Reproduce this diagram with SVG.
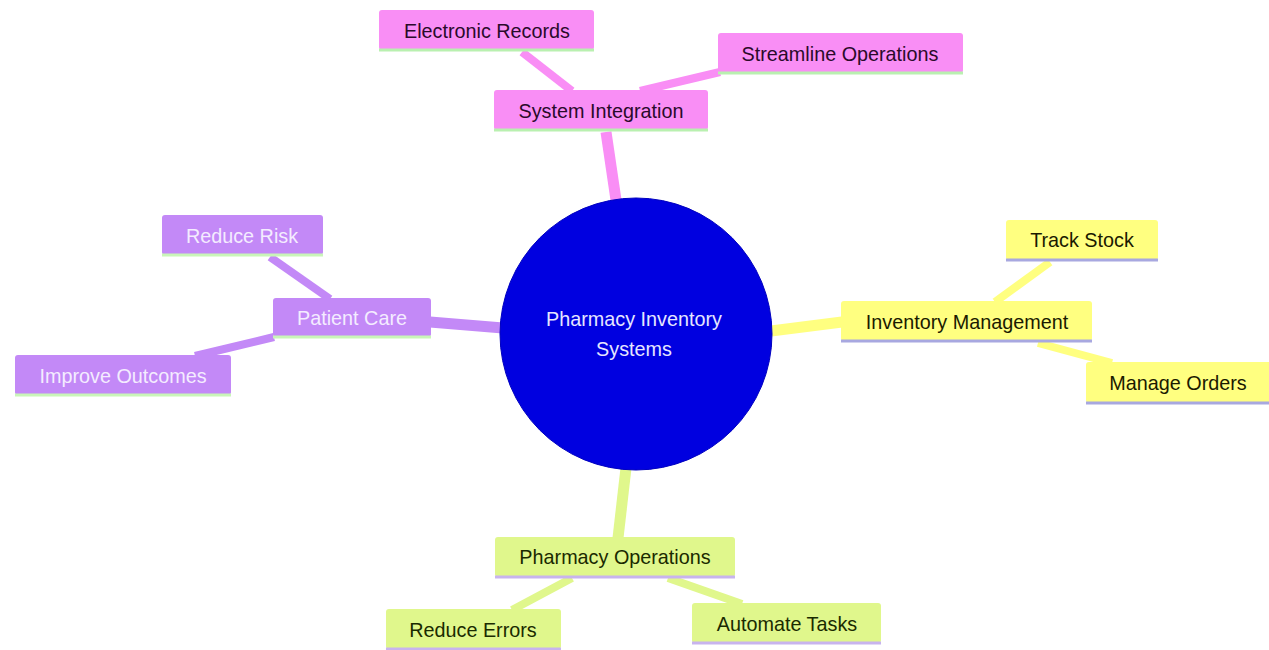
<svg xmlns="http://www.w3.org/2000/svg" width="1269" height="650" viewBox="0 0 1269 650">
<style>
text{font-family:"Liberation Sans",Arial,sans-serif;font-size:19.8px;text-anchor:middle;dominant-baseline:central}
.e{fill:none;stroke-linecap:butt}
.e1{stroke-width:11}
.e2{stroke-width:8}
.pk{fill:#f98ef5;stroke:#f98ef5}
.pu{fill:#c389f7;stroke:#c389f7}
.ye{fill:#ffff80;stroke:#ffff80}
.gr{fill:#e0f78c;stroke:#e0f78c}
.box{stroke:none}
.lpk{stroke:#b9f0b0;stroke-width:3}
.lpu{stroke:#c9f5b8;stroke-width:3}
.lye{stroke:#a8a8e0;stroke-width:3}
.lgr{stroke:#c8b4ee;stroke-width:3}
.tpk{fill:#2a0a2a}
.tpu{fill:#f4ecff}
.tye{fill:#1a1a00}
.tgr{fill:#1a2a00}
</style>
<rect width="1269" height="650" fill="#ffffff"/>
<g id="connectors">
<line class="e e1 pk" x1="616" y1="200" x2="606" y2="132"/>
<line class="e e2 pk" x1="572" y1="91" x2="522" y2="52"/>
<line class="e e2 pk" x1="640" y1="91" x2="720" y2="72"/>
<line class="e e1 pu" x1="430" y1="322" x2="503" y2="328"/>
<line class="e e2 pu" x1="330" y1="299" x2="270" y2="257"/>
<line class="e e2 pu" x1="274" y1="337" x2="195" y2="356"/>
<line class="e e1 ye" x1="771" y1="331" x2="842" y2="322"/>
<line class="e e2 ye" x1="995" y1="302" x2="1050" y2="262"/>
<line class="e e2 ye" x1="1038" y1="343" x2="1112" y2="363"/>
<line class="e e1 gr" x1="626" y1="468" x2="618" y2="538"/>
<line class="e e2 gr" x1="572" y1="578" x2="512" y2="610"/>
<line class="e e2 gr" x1="668" y1="578" x2="742" y2="604"/>
</g>
<g id="root">
<circle cx="636" cy="334" r="136" fill="#0000e0" stroke="#0000c0" stroke-width="1"/>
<text x="634" y="319" fill="#e6e6ff">Pharmacy Inventory</text>
<text x="634" y="349" fill="#e6e6ff">Systems</text>
</g>
<g id="system-integration">
<rect class="box pk" x="494" y="90" width="214" height="40" rx="3"/>
<line class="lpk" x1="494" y1="130" x2="708" y2="130"/>
<text class="tpk" x="601" y="111">System Integration</text>
</g>
<g id="electronic-records">
<rect class="box pk" x="379" y="10" width="215" height="40" rx="3"/>
<line class="lpk" x1="379" y1="50" x2="594" y2="50"/>
<text class="tpk" x="487" y="31">Electronic Records</text>
</g>
<g id="streamline-operations">
<rect class="box pk" x="718" y="33" width="245" height="40" rx="3"/>
<line class="lpk" x1="718" y1="73" x2="963" y2="73"/>
<text class="tpk" x="840" y="54">Streamline Operations</text>
</g>
<g id="patient-care">
<rect class="box pu" x="273" y="298" width="158" height="39" rx="3"/>
<line class="lpu" x1="273" y1="337" x2="431" y2="337"/>
<text class="tpu" x="352" y="318">Patient Care</text>
</g>
<g id="reduce-risk">
<rect class="box pu" x="162" y="215" width="161" height="40" rx="3"/>
<line class="lpu" x1="162" y1="255" x2="323" y2="255"/>
<text class="tpu" x="242" y="236">Reduce Risk</text>
</g>
<g id="improve-outcomes">
<rect class="box pu" x="15" y="355" width="216" height="40" rx="3"/>
<line class="lpu" x1="15" y1="395" x2="231" y2="395"/>
<text class="tpu" x="123" y="376">Improve Outcomes</text>
</g>
<g id="inventory-management">
<rect class="box ye" x="841" y="301" width="251" height="40" rx="3"/>
<line class="lye" x1="841" y1="341" x2="1092" y2="341"/>
<text class="tye" x="967" y="322">Inventory Management</text>
</g>
<g id="track-stock">
<rect class="box ye" x="1006" y="220" width="152" height="40" rx="3"/>
<line class="lye" x1="1006" y1="260" x2="1158" y2="260"/>
<text class="tye" x="1082" y="240">Track Stock</text>
</g>
<g id="manage-orders">
<rect class="box ye" x="1086" y="362" width="186" height="41" rx="3"/>
<line class="lye" x1="1086" y1="403" x2="1269" y2="403"/>
<text class="tye" x="1178" y="383">Manage Orders</text>
</g>
<g id="pharmacy-operations">
<rect class="box gr" x="495" y="537" width="240" height="40" rx="3"/>
<line class="lgr" x1="495" y1="577" x2="735" y2="577"/>
<text class="tgr" x="615" y="557">Pharmacy Operations</text>
</g>
<g id="reduce-errors">
<rect class="box gr" x="386" y="609" width="175" height="40" rx="3"/>
<line class="lgr" x1="386" y1="649" x2="561" y2="649"/>
<text class="tgr" x="473" y="630">Reduce Errors</text>
</g>
<g id="automate-tasks">
<rect class="box gr" x="692" y="603" width="189" height="40" rx="3"/>
<line class="lgr" x1="692" y1="643" x2="881" y2="643"/>
<text class="tgr" x="787" y="624">Automate Tasks</text>
</g>
</svg>
